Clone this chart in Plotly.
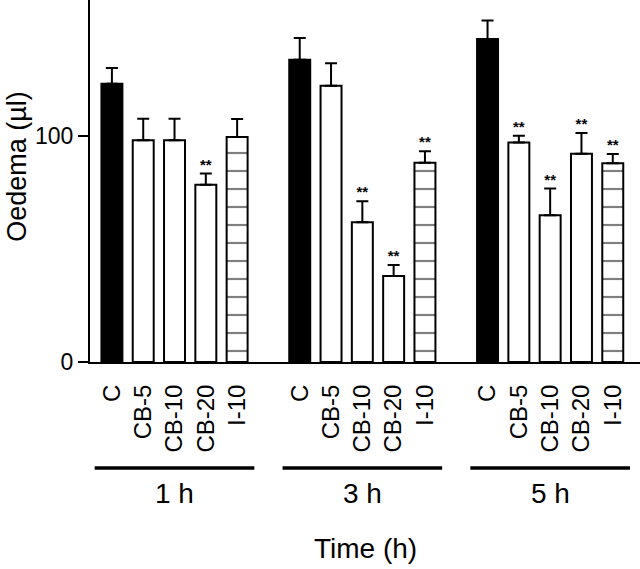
import plotly.graph_objects as go

# ---- data ----
categories = ["C", "CB-5", "CB-10", "CB-20", "I-10"]
times = ["1 h", "3 h", "5 h"]
mean_1h = [123.0, 98.0, 98.0, 78.3, 99.4]
mean_3h = [133.6, 122.1, 61.8, 38.0, 88.1]
mean_5h = [142.8, 97.0, 64.9, 92.0, 87.9]
err_1h = [7.0, 9.5, 9.5, 5.0, 8.0]
err_3h = [9.6, 9.9, 9.3, 4.9, 5.1]
err_5h = [8.1, 3.0, 11.8, 9.2, 4.0]
sig_1h = [False, False, False, True, False]
sig_3h = [False, False, True, True, True]
sig_5h = [False, True, True, True, True]

means = [mean_1h, mean_3h, mean_5h]
errs = [err_1h, err_3h, err_5h]
sigs = [sig_1h, sig_3h, sig_5h]

FONT = "Liberation Sans, Arial, sans-serif"
GROUP_STEP = 6  # slot positions per group (5 bars + 1 gap slot)

fig = go.Figure()

styles = {
    "C": dict(color="black", pattern=None),
    "CB-5": dict(color="white", pattern=None),
    "CB-10": dict(color="white", pattern=None),
    "CB-20": dict(color="white", pattern=None),
    "I-10": dict(color="white", pattern=dict(shape="-", fgcolor="black", bgcolor="white", size=18, solidity=0.12)),
}

tickvals, ticktext = [], []
for ci, cat in enumerate(categories):
    xs = [g * GROUP_STEP + ci for g in range(len(times))]
    ys = [means[g][ci] for g in range(len(times))]
    es = [errs[g][ci] for g in range(len(times))]
    st = styles[cat]
    marker = dict(color=st["color"], line=dict(color="black", width=2))
    if st["pattern"]:
        marker["pattern"] = st["pattern"]
    fig.add_trace(go.Bar(
        x=xs, y=ys, width=0.67, marker=marker, name=cat,
        error_y=dict(type="data", array=es, arrayminus=[0] * len(es), symmetric=False,
                     color="black", thickness=2, width=6),
        showlegend=False,
    ))

for g in range(len(times)):
    for ci, cat in enumerate(categories):
        tickvals.append(g * GROUP_STEP + ci)
        ticktext.append(cat)

# significance stars
sx, sy = [], []
for g in range(len(times)):
    for ci in range(len(categories)):
        if sigs[g][ci]:
            sx.append(g * GROUP_STEP + ci)
            sy.append(means[g][ci] + errs[g][ci])
fig.add_trace(go.Scatter(x=sx, y=sy, mode="text", text=["<b>**</b>"] * len(sx),
                         textposition="top center",
                         textfont=dict(family=FONT, size=15, color="black"),
                         showlegend=False, cliponaxis=False))

# group lines and labels
for g, t in enumerate(times):
    x0 = g * GROUP_STEP - 0.55
    x1 = g * GROUP_STEP + len(categories) - 0.45
    fig.add_shape(type="line", xref="x", yref="paper", x0=x0, x1=x1, y0=-0.293, y1=-0.293,
                  line=dict(color="black", width=3.5))
    fig.add_annotation(x=g * GROUP_STEP + 2, y=-0.362, xref="x", yref="paper", text=t,
                       showarrow=False, font=dict(family=FONT, size=28, color="black"),
                       xanchor="center", yanchor="middle")

fig.add_annotation(x=0.5, y=-0.515, xref="paper", yref="paper", text="Time (h)",
                   showarrow=False, font=dict(family=FONT, size=28, color="black"),
                   xanchor="center", yanchor="middle")
fig.add_annotation(x=-0.134, y=0.54, xref="paper", yref="paper", text="Oedema (µl)",
                   textangle=-90, showarrow=False, font=dict(family=FONT, size=27, color="black"),
                   xanchor="center", yanchor="middle")

fig.update_layout(
    width=640, height=569,
    margin=dict(l=90, r=0, t=0, b=207),
    paper_bgcolor="white", plot_bgcolor="white",
    barmode="overlay",
    font=dict(family=FONT, color="black"),
    xaxis=dict(range=[-0.70, 16.87], tickvals=tickvals, ticktext=ticktext, tickangle=-90,
               tickfont=dict(family=FONT, size=24, color="black"),
               showline=True, linecolor="black", linewidth=2, showgrid=False, zeroline=False,
               ticks="outside", ticklen=11, tickcolor="rgba(0,0,0,0)"),
    yaxis=dict(range=[0, 160], tickvals=[0, 100], ticktext=["0", "100"],
               tickfont=dict(family=FONT, size=23, color="black"),
               showline=True, linecolor="black", linewidth=2, showgrid=False, zeroline=False,
               ticks="outside", ticklen=10, tickwidth=2, tickcolor="black"),
)

fig.write_html("out.html", config={"displayModeBar": False},
               post_script="document.body.style.margin='0px';")
